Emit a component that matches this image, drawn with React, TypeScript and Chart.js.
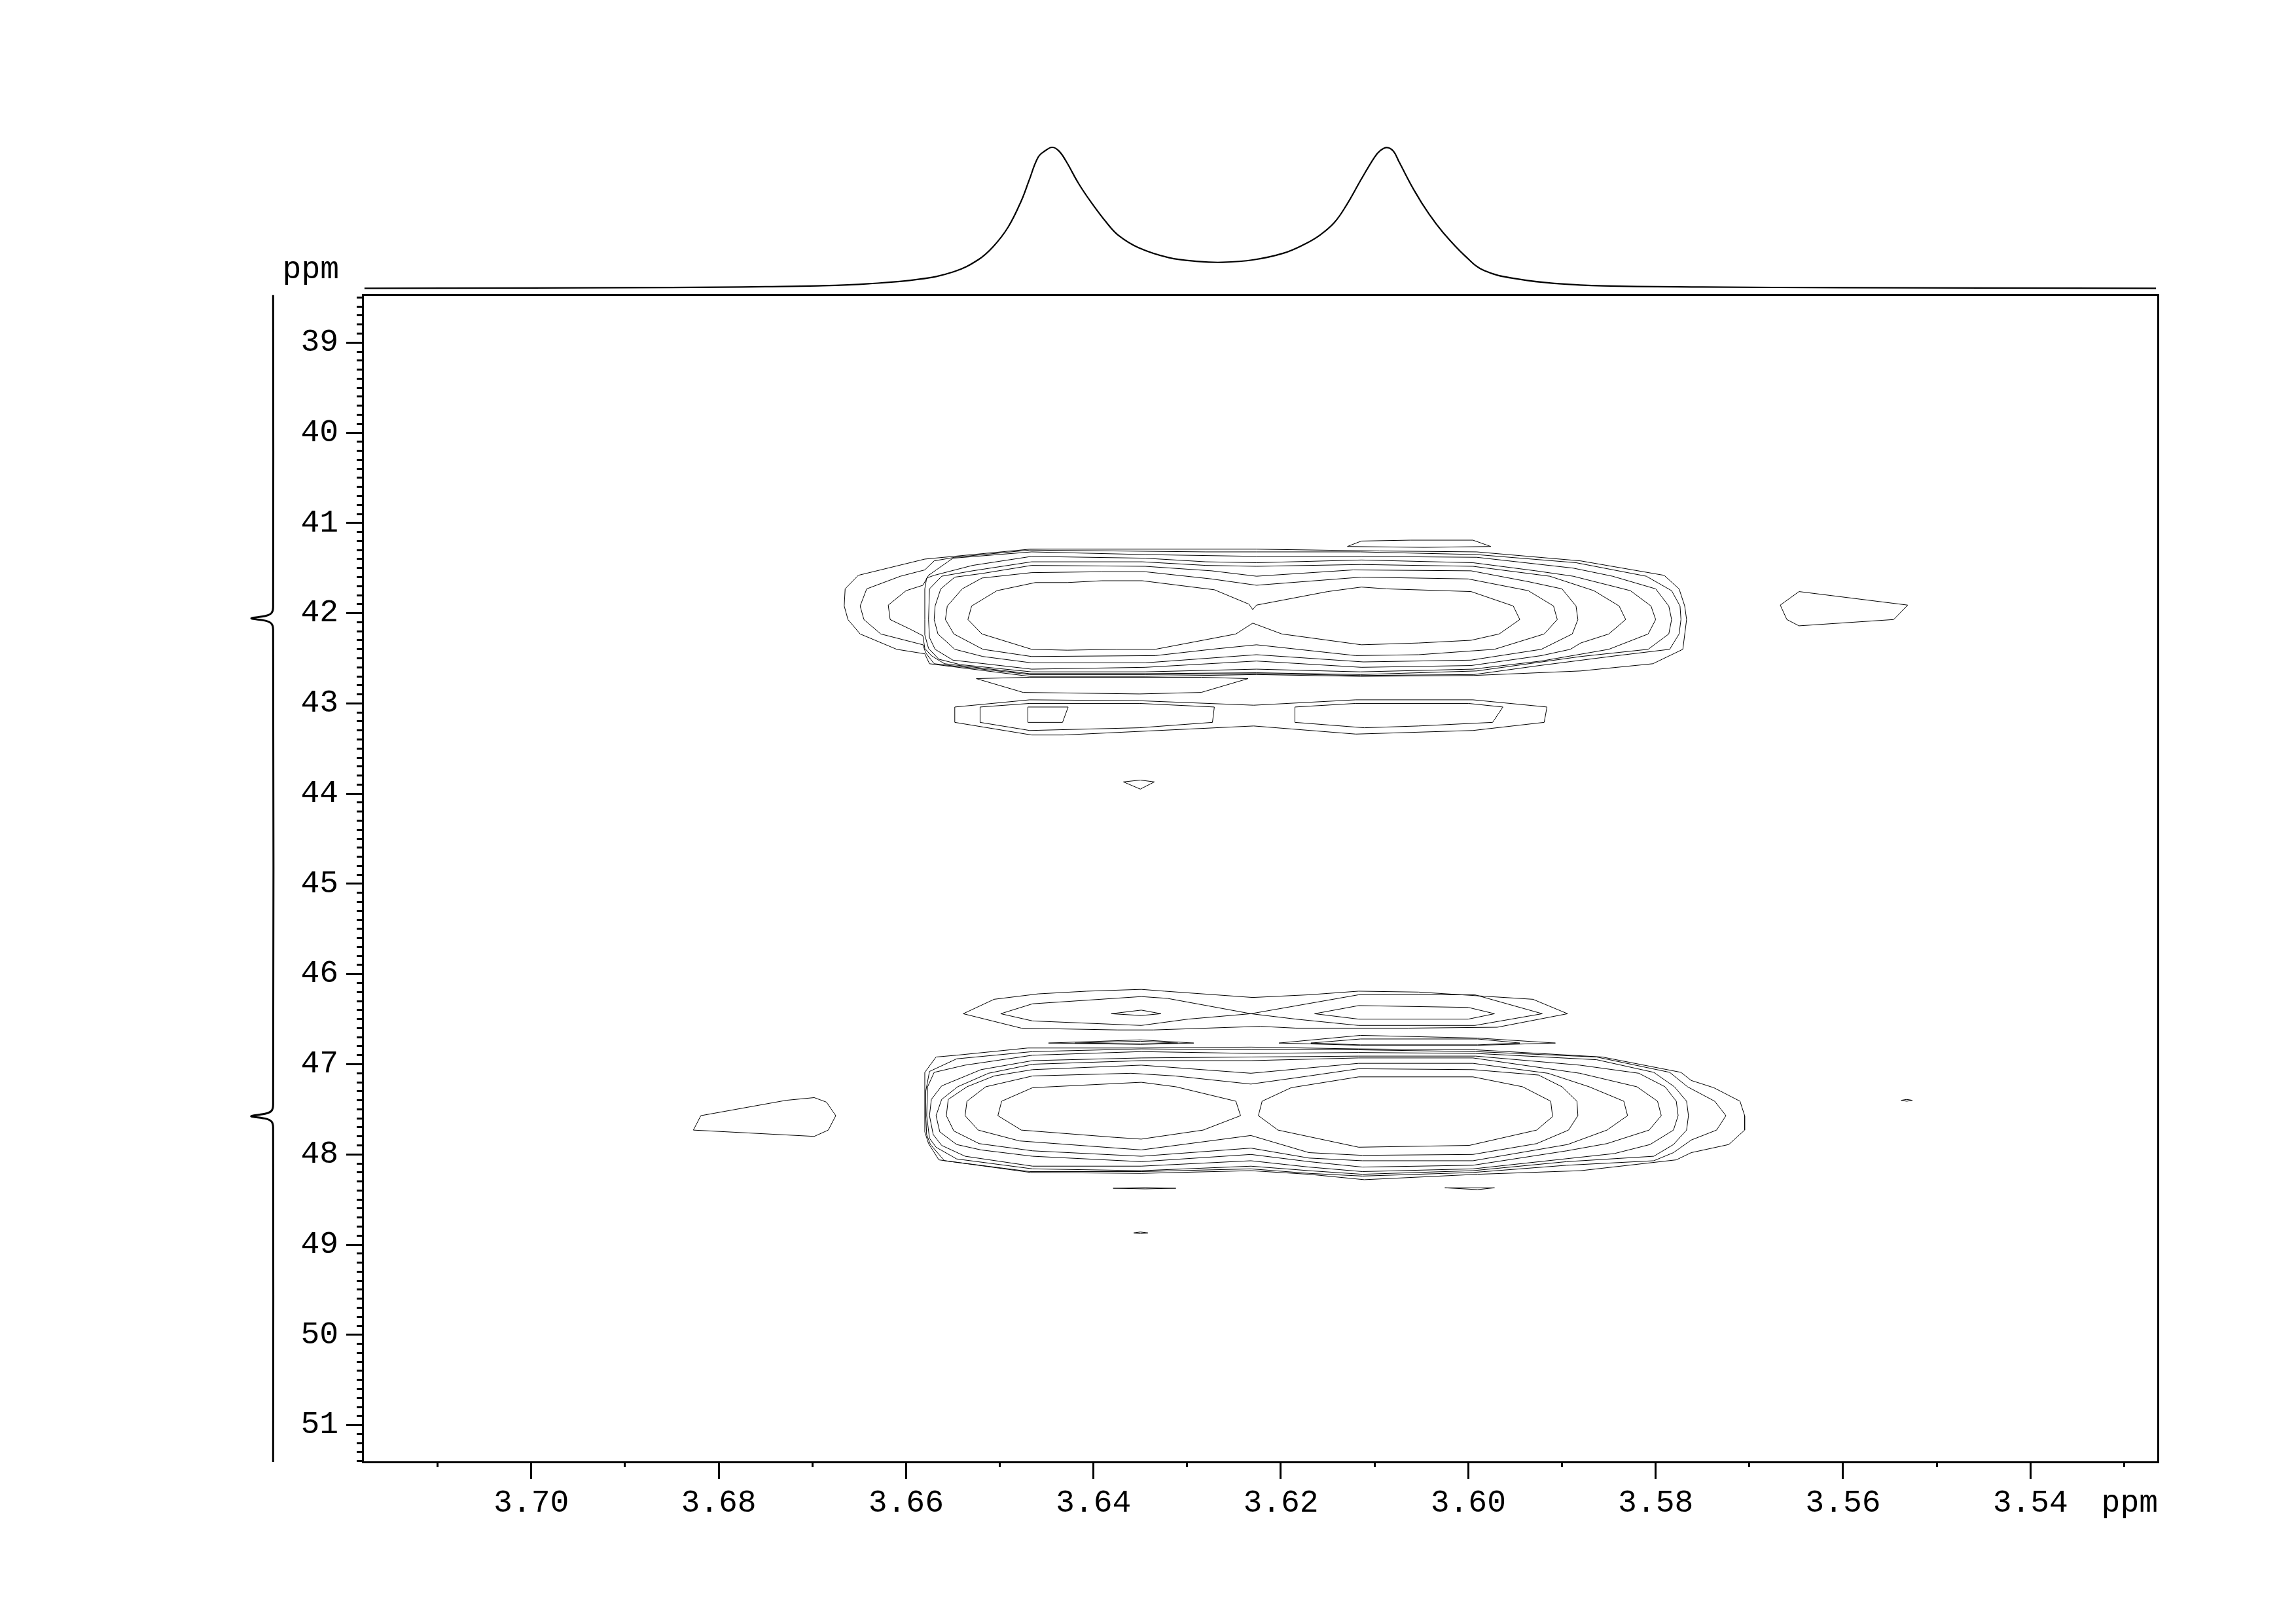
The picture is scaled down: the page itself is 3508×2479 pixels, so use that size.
import { useEffect, useRef } from "react";
import { Chart, registerables } from "chart.js";

Chart.register(...registerables);

type Pt = [number, number];

// ---------------- axes (ppm) ----------------
const F2_RANGE: [number, number] = [3.5264, 3.718]; // 1H, drawn reversed
const F1_RANGE: [number, number] = [38.473, 51.409]; // 13C, drawn reversed
const F2_MAJOR_STEP = 0.02;
const F2_MINOR_STEP = 0.01;
const F1_MAJOR_STEP = 1;
const F1_MINOR_STEP = 0.1;
const UNIT_LABEL = "ppm";

// ---------------- 1D projection on top (F2) ----------------
const traceShift = [3.7178, 3.7, 3.69, 3.68, 3.675, 3.6694, 3.664, 3.6587, 3.6549, 3.6523, 3.6507, 3.6491, 3.6477, 3.6469, 3.6459, 3.6451, 3.6444, 3.6437, 3.6429, 3.6416, 3.6402, 3.6386, 3.6373, 3.6352, 3.632, 3.6288, 3.6262, 3.6229, 3.6197, 3.6175, 3.6159, 3.6143, 3.613, 3.6114, 3.61, 3.6094, 3.6087, 3.608, 3.6074, 3.6058, 3.6042, 3.6026, 3.6004, 3.5983, 3.5945, 3.5903, 3.5856, 3.575, 3.56, 3.545, 3.5266];
const traceIntensity = [0.1, 0.3, 0.5, 0.9, 1.2, 1.8, 3.3, 6.4, 11.8, 20.3, 29.6, 43.5, 62.1, 76.0, 93.0, 97.8, 100, 97.5, 89.9, 74.5, 60.6, 46.6, 37.4, 28.9, 21.9, 19.1, 18.5, 20.3, 25.0, 31.2, 37.4, 46.6, 59.0, 77.6, 93.0, 97.6, 99.8, 97.3, 89.9, 69.8, 52.8, 38.9, 23.4, 12.6, 6.4, 3.3, 1.8, 1.0, 0.5, 0.3, 0.1];

// ---------------- 1D projection on the left (F1) ----------------
const projShift = [38.473, 41.935, 41.996, 42.028, 42.057, 42.085, 42.118, 42.179, 47.45, 47.515, 47.546, 47.576, 47.605, 47.637, 47.7, 51.409];
const projIntensity = [0, 0, 7, 32, 100, 32, 7, 0, 0, 7, 32, 101, 32, 7, 0, 0];

// ---------------- contours: cross peak near 42 ppm ----------------
const topL1: Pt[] = [[3.6662,42.07],[3.6666,41.92],[3.6665,41.73],[3.6651,41.58],[3.658,41.40],[3.6468,41.29],[3.6226,41.29],[3.6095,41.31],[3.5991,41.32],[3.588,41.42],[3.5791,41.58],[3.5775,41.73],[3.5769,41.92],[3.5767,42.07],[3.5771,42.40],[3.5803,42.56],[3.588,42.64],[3.5994,42.69],[3.6115,42.70],[3.6226,42.68],[3.6345,42.70],[3.6468,42.70],[3.6575,42.56],[3.658,42.45],[3.661,42.40],[3.6649,42.23],[3.6662,42.07]];
const topL2: Pt[] = [[3.6645,42.07],[3.6649,41.92],[3.6642,41.73],[3.6606,41.59],[3.658,41.52],[3.657,41.42],[3.6548,41.38],[3.6468,41.30],[3.628,41.32],[3.6226,41.32],[3.6115,41.32],[3.5991,41.35],[3.5885,41.44],[3.581,41.59],[3.5783,41.75],[3.5774,41.92],[3.5773,42.07],[3.5775,42.23],[3.5785,42.40],[3.5841,42.47],[3.5924,42.58],[3.5994,42.68],[3.6115,42.69],[3.6226,42.67],[3.6345,42.68],[3.6468,42.68],[3.657,42.56],[3.6579,42.44],[3.6582,42.35],[3.6627,42.23],[3.6645,42.07]];
const topL3: Pt[] = [[3.6617,42.07],[3.6619,41.91],[3.66,41.75],[3.6582,41.69],[3.6576,41.58],[3.655,41.39],[3.6466,41.32],[3.6345,41.35],[3.6226,41.37],[3.6114,41.37],[3.5991,41.38],[3.5888,41.50],[3.5846,41.59],[3.58,41.73],[3.5786,41.92],[3.5783,42.07],[3.5786,42.23],[3.5808,42.40],[3.588,42.48],[3.5991,42.64],[3.6115,42.68],[3.6226,42.66],[3.6345,42.67],[3.6468,42.67],[3.6559,42.56],[3.6573,42.47],[3.658,42.39],[3.6582,42.25],[3.6595,42.18],[3.6617,42.07]];
const topL4: Pt[] = [[3.658,42.07],[3.658,41.73],[3.6578,41.61],[3.657,41.58],[3.6529,41.47],[3.6466,41.37],[3.6345,41.39],[3.628,41.43],[3.6226,41.44],[3.6114,41.41],[3.5995,41.44],[3.5928,41.53],[3.5888,41.59],[3.5827,41.75],[3.5805,41.92],[3.58,42.07],[3.5808,42.23],[3.585,42.40],[3.5922,42.53],[3.5995,42.62],[3.6115,42.65],[3.6226,42.62],[3.6345,42.65],[3.6466,42.65],[3.6542,42.57],[3.6565,42.51],[3.6576,42.39],[3.658,42.24],[3.658,42.07]];
const topL5: Pt[] = [[3.6576,42.07],[3.6575,41.73],[3.6562,41.59],[3.6529,41.53],[3.6466,41.43],[3.6348,41.43],[3.628,41.47],[3.6226,41.48],[3.6114,41.46],[3.5995,41.48],[3.5913,41.59],[3.5866,41.75],[3.5839,41.92],[3.5832,42.07],[3.585,42.23],[3.588,42.33],[3.5891,42.40],[3.5922,42.47],[3.5997,42.58],[3.6114,42.60],[3.6226,42.53],[3.6345,42.60],[3.6466,42.62],[3.655,42.52],[3.6569,42.40],[3.6575,42.27],[3.6576,42.07]];
const topL6: Pt[] = [[3.657,42.07],[3.6569,41.92],[3.6563,41.73],[3.6548,41.60],[3.6519,41.56],[3.6466,41.47],[3.6345,41.48],[3.6274,41.53],[3.6226,41.59],[3.6123,41.52],[3.5997,41.53],[3.5936,41.65],[3.59,41.73],[3.5885,41.92],[3.5883,42.07],[3.5889,42.23],[3.5922,42.40],[3.5997,42.52],[3.6112,42.54],[3.6226,42.46],[3.6345,42.55],[3.6466,42.55],[3.6518,42.48],[3.6548,42.40],[3.6566,42.23],[3.657,42.07]];
const topL7: Pt[] = [[3.6558,42.07],[3.6556,41.92],[3.654,41.73],[3.6519,41.61],[3.6466,41.55],[3.6391,41.54],[3.6345,41.54],[3.6274,41.62],[3.6226,41.69],[3.6114,41.60],[3.6,41.62],[3.5936,41.75],[3.5909,41.92],[3.5905,42.07],[3.5919,42.23],[3.5972,42.40],[3.6053,42.46],[3.612,42.47],[3.6226,42.35],[3.6274,42.40],[3.6334,42.47],[3.6466,42.48],[3.6518,42.40],[3.6549,42.23],[3.6558,42.07]];
const topL8: Pt[] = [[3.6534,42.07],[3.653,41.92],[3.6503,41.75],[3.6462,41.66],[3.6428,41.66],[3.6391,41.64],[3.6348,41.64],[3.6271,41.74],[3.6234,41.90],[3.623,41.96],[3.6226,41.91],[3.615,41.76],[3.6114,41.71],[3.6087,41.73],[3.5997,41.76],[3.5952,41.92],[3.5945,42.07],[3.5967,42.23],[3.5997,42.30],[3.6053,42.33],[3.6114,42.35],[3.6199,42.23],[3.623,42.11],[3.6248,42.23],[3.6334,42.40],[3.6375,42.40],[3.6428,42.41],[3.6466,42.40],[3.6519,42.23],[3.6534,42.07]];
const topSliver: Pt[] = [[3.6129,41.26],[3.6114,41.20],[3.6062,41.19],[3.5995,41.19],[3.5976,41.26],[3.6047,41.27],[3.6129,41.26]];
const topLens: Pt[] = [[3.6525,42.725],[3.6468,42.71],[3.6285,42.71],[3.6235,42.725],[3.6285,42.878],[3.6351,42.895],[3.6475,42.878],[3.6525,42.725]];
const band43Outer: Pt[] = [[3.6548,43.04],[3.6468,42.96],[3.6351,42.97],[3.6229,43.02],[3.612,42.96],[3.5995,42.96],[3.5916,43.04],[3.5919,43.21],[3.5995,43.30],[3.612,43.34],[3.6229,43.25],[3.6432,43.35],[3.6466,43.35],[3.6548,43.21],[3.6548,43.04]];
const band43InnerL: Pt[] = [[3.6521,43.04],[3.6468,43.00],[3.6351,43.00],[3.6271,43.04],[3.6273,43.21],[3.6351,43.27],[3.6468,43.30],[3.6521,43.21],[3.6521,43.04]];
const band43InnerR: Pt[] = [[3.6185,43.04],[3.612,43.00],[3.6,43.00],[3.5963,43.04],[3.5974,43.21],[3.6053,43.25],[3.6111,43.27],[3.6185,43.21],[3.6185,43.04]];
const band43Core: Pt[] = [[3.647,43.04],[3.6427,43.04],[3.6433,43.21],[3.647,43.21],[3.647,43.04]];
const spot44: Pt[] = [[3.6368,43.87],[3.635,43.85],[3.6335,43.87],[3.635,43.95],[3.6368,43.87]];
const spotRight42: Pt[] = [[3.5667,41.91],[3.5647,41.76],[3.5531,41.91],[3.5546,42.07],[3.5647,42.14],[3.566,42.07],[3.5667,41.91]];

// ---------------- contours: cross peak near 47.6 ppm ----------------
const up46Outer: Pt[] = [[3.6539,46.44],[3.6506,46.28],[3.6459,46.22],[3.6407,46.19],[3.6349,46.17],[3.6324,46.19],[3.623,46.26],[3.617,46.23],[3.6117,46.19],[3.6053,46.20],[3.5931,46.28],[3.5894,46.44],[3.5969,46.59],[3.6064,46.60],[3.6184,46.60],[3.6222,46.58],[3.6336,46.62],[3.6374,46.62],[3.6477,46.60],[3.6539,46.44]];
const up46Inner: Pt[] = [[3.6499,46.44],[3.6465,46.33],[3.6349,46.25],[3.6321,46.27],[3.6232,46.44],[3.6117,46.23],[3.5993,46.23],[3.5921,46.44],[3.5993,46.57],[3.6117,46.57],[3.6184,46.50],[3.6232,46.44],[3.6299,46.50],[3.6349,46.57],[3.6465,46.52],[3.6499,46.44]];
const up46CoreL: Pt[] = [[3.6381,46.44],[3.6349,46.40],[3.6328,46.44],[3.6349,46.46],[3.6381,46.44]];
const up46CoreR: Pt[] = [[3.6164,46.44],[3.6117,46.35],[3.6,46.37],[3.5972,46.44],[3.6,46.50],[3.6117,46.50],[3.6164,46.44]];
const sliver47L: Pt[] = [[3.6448,46.765],[3.635,46.73],[3.6293,46.765],[3.635,46.78],[3.6448,46.765]];
const sliver47LInner: Pt[] = [[3.642,46.765],[3.635,46.745],[3.631,46.765],[3.635,46.775],[3.642,46.765]];
const sliver47R: Pt[] = [[3.6202,46.765],[3.6115,46.68],[3.599,46.71],[3.5907,46.765],[3.599,46.79],[3.6115,46.79],[3.6202,46.765]];
const sliver47RInner: Pt[] = [[3.6168,46.765],[3.6115,46.72],[3.599,46.72],[3.5945,46.765],[3.599,46.785],[3.6115,46.785],[3.6168,46.765]];
const botL1: Pt[] = [[3.658,47.57],[3.658,47.09],[3.6568,46.92],[3.6546,46.90],[3.647,46.82],[3.6349,46.82],[3.6232,46.81],[3.6117,46.83],[3.5992,46.84],[3.5857,46.92],[3.5773,47.09],[3.5762,47.18],[3.5738,47.26],[3.571,47.41],[3.5705,47.57],[3.5705,47.73],[3.5722,47.89],[3.5762,47.98],[3.5778,48.06],[3.588,48.18],[3.599,48.22],[3.6111,48.28],[3.617,48.22],[3.6232,48.18],[3.6349,48.21],[3.6467,48.20],[3.6565,48.06],[3.6576,47.88],[3.658,47.75],[3.658,47.57]];
const botL2: Pt[] = [[3.6579,47.57],[3.6579,47.30],[3.6575,47.08],[3.6546,46.94],[3.6465,46.86],[3.6349,46.83],[3.6232,46.84],[3.6117,46.84],[3.5992,46.86],[3.5863,46.92],[3.5785,47.09],[3.5766,47.25],[3.5737,47.41],[3.5725,47.57],[3.5735,47.73],[3.5762,47.84],[3.5781,47.98],[3.5802,48.07],[3.5895,48.12],[3.5995,48.20],[3.6113,48.24],[3.617,48.21],[3.6232,48.16],[3.6349,48.19],[3.6468,48.19],[3.6559,48.07],[3.6574,47.89],[3.6578,47.78],[3.6579,47.57]];
const botL3: Pt[] = [[3.6578,47.57],[3.6577,47.25],[3.657,47.09],[3.6537,47.01],[3.6465,46.90],[3.6349,46.86],[3.6232,46.88],[3.6117,46.87],[3.5992,46.88],[3.5863,46.95],[3.5802,47.09],[3.578,47.25],[3.5767,47.41],[3.5765,47.57],[3.5767,47.73],[3.5781,47.89],[3.5802,48.02],[3.5895,48.08],[3.5995,48.18],[3.6113,48.22],[3.617,48.18],[3.6232,48.13],[3.6349,48.18],[3.6465,48.16],[3.6546,48.05],[3.6568,47.92],[3.6575,47.82],[3.6578,47.57]];
const botL4: Pt[] = [[3.6575,47.57],[3.6573,47.39],[3.6562,47.24],[3.652,47.06],[3.6465,46.96],[3.6349,46.93],[3.6232,46.92],[3.6117,46.91],[3.5992,46.91],[3.5881,47.01],[3.5818,47.10],[3.579,47.25],[3.5778,47.41],[3.5776,47.57],[3.5781,47.73],[3.5806,47.89],[3.5844,47.99],[3.5995,48.16],[3.6113,48.19],[3.617,48.14],[3.6232,48.07],[3.6349,48.13],[3.6465,48.13],[3.6537,48.02],[3.6562,47.90],[3.6571,47.78],[3.6575,47.57]];
const botL5: Pt[] = [[3.6568,47.57],[3.6562,47.39],[3.6545,47.25],[3.6512,47.10],[3.6465,47.00],[3.6349,46.96],[3.6232,46.96],[3.6117,46.93],[3.5995,46.93],[3.5881,47.10],[3.582,47.25],[3.5798,47.41],[3.5794,47.57],[3.5807,47.73],[3.5852,47.88],[3.5895,47.96],[3.5995,48.12],[3.6113,48.14],[3.617,48.08],[3.6232,48.00],[3.6349,48.08],[3.6465,48.02],[3.652,47.95],[3.6546,47.89],[3.6564,47.75],[3.6568,47.57]];
const botL6: Pt[] = [[3.6557,47.57],[3.6555,47.39],[3.6535,47.25],[3.6506,47.13],[3.6465,47.06],[3.6349,47.01],[3.6232,47.10],[3.6117,46.99],[3.5995,46.99],[3.5915,47.10],[3.5871,47.25],[3.5834,47.41],[3.583,47.57],[3.5852,47.73],[3.5894,47.89],[3.5995,48.07],[3.6113,48.07],[3.617,48.04],[3.6232,47.93],[3.6349,48.02],[3.6465,47.96],[3.6522,47.88],[3.6549,47.74],[3.6557,47.57]];
const botL7: Pt[] = [[3.6537,47.57],[3.6535,47.41],[3.6515,47.25],[3.6465,47.13],[3.636,47.10],[3.6313,47.13],[3.6232,47.22],[3.617,47.13],[3.6117,47.05],[3.5995,47.06],[3.5925,47.12],[3.59,47.25],[3.5884,47.41],[3.5883,47.57],[3.5893,47.73],[3.5927,47.88],[3.5995,48.00],[3.6113,48.01],[3.617,47.98],[3.6232,47.79],[3.6349,47.95],[3.6479,47.85],[3.6523,47.73],[3.6537,47.57]];
const botL8a: Pt[] = [[3.6502,47.57],[3.6498,47.41],[3.6465,47.26],[3.6349,47.20],[3.6312,47.25],[3.6248,47.41],[3.6243,47.57],[3.6283,47.73],[3.6349,47.83],[3.6378,47.81],[3.6477,47.73],[3.6502,47.57]];
const botL8b: Pt[] = [[3.6224,47.57],[3.622,47.41],[3.6189,47.26],[3.6117,47.14],[3.5995,47.14],[3.5942,47.25],[3.5912,47.41],[3.591,47.58],[3.5927,47.73],[3.5999,47.90],[3.6117,47.92],[3.6203,47.73],[3.6224,47.57]];
const sliver48L: Pt[] = [[3.6379,48.375],[3.6345,48.368],[3.6312,48.375],[3.6345,48.382],[3.6379,48.375]];
const sliver48R: Pt[] = [[3.6025,48.37],[3.5972,48.37],[3.599,48.39],[3.6025,48.37]];
const spot49: Pt[] = [[3.6357,48.87],[3.635,48.86],[3.6342,48.87],[3.635,48.88],[3.6357,48.87]];
const spotLeft48: Pt[] = [[3.6827,47.73],[3.6819,47.57],[3.6728,47.40],[3.6698,47.37],[3.6685,47.42],[3.6675,47.57],[3.6683,47.73],[3.6698,47.80],[3.6827,47.73]];
const spotRight47: Pt[] = [[3.5538,47.40],[3.5532,47.39],[3.5526,47.40],[3.5532,47.41],[3.5538,47.40]];

const contours: Pt[][] = [
  topL1, topL2, topL3, topL4, topL5, topL6, topL7, topL8,
  topSliver, topLens, band43Outer, band43InnerL, band43InnerR, band43Core, spot44, spotRight42,
  up46Outer, up46Inner, up46CoreL, up46CoreR, sliver47L, sliver47LInner, sliver47R, sliver47RInner,
  botL1, botL2, botL3, botL4, botL5, botL6, botL7, botL8a, botL8b,
  sliver48L, sliver48R, spot49, spotLeft48, spotRight47,
];

// ---------------- layout / style ----------------
const CANVAS_W = 3508;
const CANVAS_H = 2479;
const PLOT = { left: 554, top: 450.7, right: 3297, bottom: 2233 };
const TOP_AXIS_H = 100;
const RIGHT_AXIS_W = 150;
const BOTTOM_AXIS_H = 90;
const TRACE_BASE_PX = 440.5;
const TRACE_FULL_PX = 225;
const PROJ_BASE_PX = 417.3;
const PROJ_FULL_PX = 384;
const INK = "#000";
const FONT_FAMILY = "'Liberation Mono', 'DejaVu Sans Mono', monospace";
const FONT_SIZE = 48;

const unitLabelPlugin = {
  id: "unitLabels",
  afterDraw(chart: any) {
    const { ctx, chartArea } = chart;
    ctx.save();
    ctx.font = `${FONT_SIZE}px ${FONT_FAMILY}`;
    ctx.fillStyle = INK;
    ctx.textAlign = "right";
    ctx.textBaseline = "alphabetic";
    ctx.fillText(UNIT_LABEL, chartArea.left - 36, chartArea.top - 26);
    ctx.fillText(UNIT_LABEL, chartArea.right, chartArea.bottom + 76);
    ctx.restore();
  },
};

function tickGrid(len: number) {
  return {
    display: true,
    drawOnChartArea: false,
    drawTicks: true,
    tickLength: len,
    tickWidth: 3,
    tickColor: INK,
    color: INK,
    lineWidth: 3,
  };
}

function buildConfig(): any {
  const W = PLOT.right - PLOT.left;
  const H = PLOT.bottom - PLOT.top;
  const kTop = (TRACE_BASE_PX - TRACE_FULL_PX) / 100;
  const yTopMax = (TRACE_BASE_PX - PLOT.top) / kTop;
  const yTopMin = yTopMax - H / kTop;
  const kProj = (PROJ_BASE_PX - PROJ_FULL_PX) / 100;
  const xProjMax = (PROJ_BASE_PX - PLOT.left) / kProj;
  const xProjMin = xProjMax - W / kProj;
  const font = { family: FONT_FAMILY, size: FONT_SIZE, weight: "normal" };

  const datasets: any[] = contours.map((c) => ({
    data: c.map(([x, y]) => ({ x, y })),
    xAxisID: "x",
    yAxisID: "y",
    borderColor: INK,
    borderWidth: 1,
    pointRadius: 0,
    pointHoverRadius: 0,
    tension: 0,
    fill: false,
    borderJoinStyle: "miter",
  }));

  datasets.push({
    data: traceShift.map((x, i) => ({ x, y: traceIntensity[i] })),
    xAxisID: "x",
    yAxisID: "yTop",
    borderColor: INK,
    borderWidth: 2.2,
    pointRadius: 0,
    pointHoverRadius: 0,
    tension: 0.4,
    fill: false,
    clip: false,
  });

  datasets.push({
    data: projShift.map((y, i) => ({ x: projIntensity[i], y })),
    xAxisID: "xProj",
    yAxisID: "y",
    borderColor: INK,
    borderWidth: 3,
    pointRadius: 0,
    pointHoverRadius: 0,
    tension: 0.3,
    fill: false,
    clip: false,
  });

  return {
    type: "line",
    data: { datasets },
    plugins: [unitLabelPlugin],
    options: {
      responsive: false,
      maintainAspectRatio: false,
      devicePixelRatio: 1,
      animation: false,
      events: [],
      layout: {
        padding: {
          left: 0,
          top: PLOT.top - TOP_AXIS_H,
          right: CANVAS_W - PLOT.right - RIGHT_AXIS_W,
          bottom: CANVAS_H - PLOT.bottom - BOTTOM_AXIS_H,
        },
      },
      plugins: {
        legend: { display: false },
        tooltip: { enabled: false },
        title: { display: false },
      },
      scales: {
        x: {
          type: "linear",
          axis: "x",
          position: "bottom",
          weight: 1,
          reverse: true,
          min: F2_RANGE[0],
          max: F2_RANGE[1],
          ticks: {
            stepSize: F2_MAJOR_STEP,
            autoSkip: false,
            includeBounds: false,
            maxRotation: 0,
            minRotation: 0,
            padding: 8,
            color: INK,
            font,
            callback: (v: any) => Number(v).toFixed(2),
          },
          grid: tickGrid(26),
          border: { display: true, color: INK, width: 3 },
          afterFit: (s: any) => { s.height = BOTTOM_AXIS_H; },
        },
        xMinor: {
          type: "linear",
          axis: "x",
          position: "bottom",
          weight: 0,
          reverse: true,
          min: F2_RANGE[0],
          max: F2_RANGE[1],
          ticks: { display: false, stepSize: F2_MINOR_STEP, autoSkip: false, includeBounds: false },
          grid: tickGrid(8),
          border: { display: false },
          afterFit: (s: any) => { s.height = 0; },
        },
        xTop: {
          type: "linear",
          axis: "x",
          position: "top",
          reverse: true,
          min: F2_RANGE[0],
          max: F2_RANGE[1],
          ticks: { display: false },
          grid: { display: true, drawOnChartArea: false, drawTicks: false },
          border: { display: true, color: INK, width: 3 },
          afterFit: (s: any) => { s.height = TOP_AXIS_H; },
        },
        y: {
          type: "linear",
          axis: "y",
          position: "left",
          weight: 1,
          reverse: true,
          min: F1_RANGE[0],
          max: F1_RANGE[1],
          ticks: {
            stepSize: F1_MAJOR_STEP,
            autoSkip: false,
            includeBounds: false,
            padding: 12,
            color: INK,
            font,
            callback: (v: any) => String(Math.round(Number(v))),
          },
          grid: tickGrid(25),
          border: { display: true, color: INK, width: 3 },
          afterFit: (s: any) => { s.width = PLOT.left; },
        },
        yMinor: {
          type: "linear",
          axis: "y",
          position: "left",
          weight: 0,
          reverse: true,
          min: F1_RANGE[0],
          max: F1_RANGE[1],
          ticks: { display: false, stepSize: F1_MINOR_STEP, autoSkip: false, includeBounds: false },
          grid: tickGrid(9),
          border: { display: false },
          afterFit: (s: any) => { s.width = 0; },
        },
        yRight: {
          type: "linear",
          axis: "y",
          position: "right",
          reverse: true,
          min: F1_RANGE[0],
          max: F1_RANGE[1],
          ticks: { display: false },
          grid: { display: true, drawOnChartArea: false, drawTicks: false },
          border: { display: true, color: INK, width: 3 },
          afterFit: (s: any) => { s.width = RIGHT_AXIS_W; },
        },
        yTop: {
          type: "linear",
          axis: "y",
          position: "left",
          display: false,
          min: yTopMin,
          max: yTopMax,
        },
        xProj: {
          type: "linear",
          axis: "x",
          position: "bottom",
          display: false,
          reverse: true,
          min: xProjMin,
          max: xProjMax,
        },
      },
    },
  };
}

export default function App() {
  const ref = useRef<HTMLCanvasElement | null>(null);
  useEffect(() => {
    if (!ref.current) return;
    const chart = new Chart(ref.current, buildConfig());
    return () => chart.destroy();
  }, []);
  return (
    <div style={{ position: "fixed", left: 0, top: 0, width: CANVAS_W, height: CANVAS_H, background: "#fff" }}>
      <canvas
        ref={ref}
        width={CANVAS_W}
        height={CANVAS_H}
        style={{ width: CANVAS_W, height: CANVAS_H, display: "block" }}
      />
    </div>
  );
}
